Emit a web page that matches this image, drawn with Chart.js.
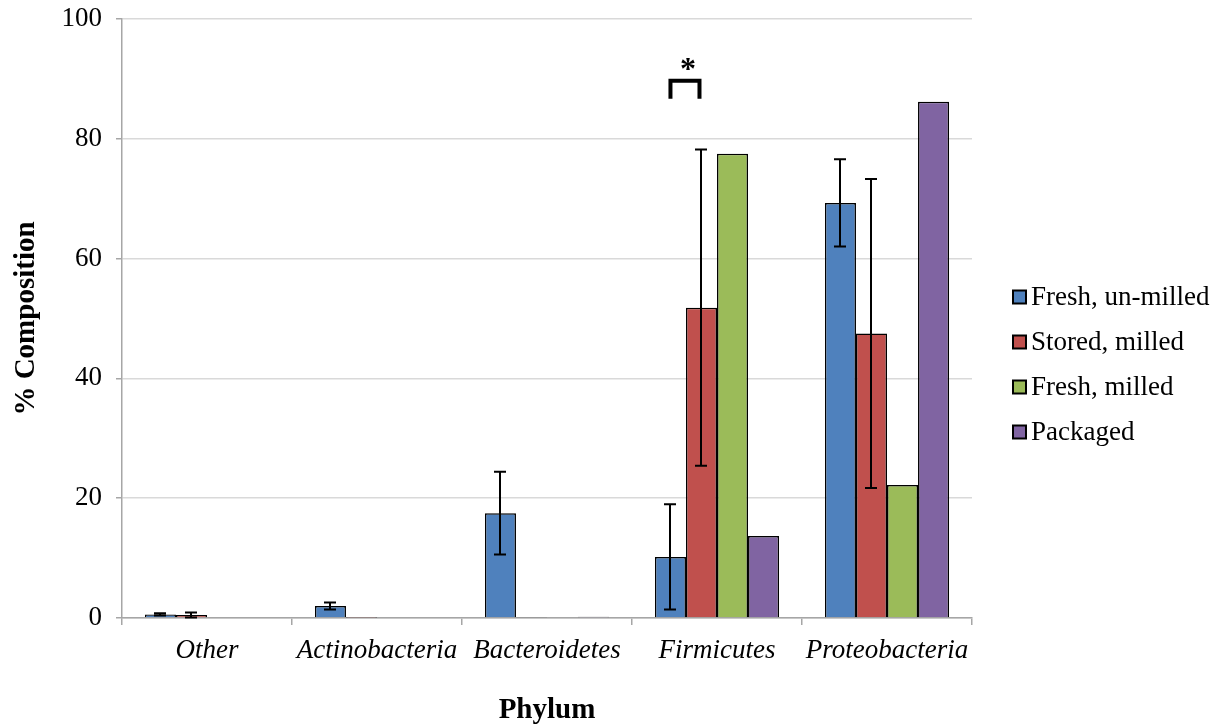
<!DOCTYPE html>
<html>
<head>
<meta charset="utf-8">
<script src="https://cdn.jsdelivr.net/npm/chart.js@4.4.1/dist/chart.umd.min.js"></script>
<style>
  html, body { margin: 0; padding: 0; background: #ffffff; }
  #wrap { width: 1216px; height: 725px; position: relative; }
</style>
</head>
<body>
<div id="wrap"><canvas id="c" width="1216" height="725"></canvas></div>
<script>
const categories = ['Other', 'Actinobacteria', 'Bacteroidetes', 'Firmicutes', 'Proteobacteria'];
const seriesNames = ['Fresh, un-milled', 'Stored, milled', 'Fresh, milled', 'Packaged'];
const freshUnmilled = [0.6, 2.0, 17.5, 10.2, 69.3];
const freshUnmilledErr = [0.2, 0.6, 6.9, 8.8, 7.3];
const storedMilled = [0.5, 0.05, 0.1, 51.8, 47.5];
const storedMilledErr = [0.4, 0, 0, 26.4, 25.8];
const freshMilled = [0, 0, 0, 77.5, 22.2];
const freshMilledErr = [null, null, null, null, null];
const packaged = [0, 0, 0.2, 13.7, 86.2];
const packagedErr = [null, null, null, null, null];
const yTicks = [0, 20, 40, 60, 80, 100];
// significance bracket: category, dataset indices, bracket top value, leg bottom value
const sigCategory = ['Firmicutes'];
const sigFrom = [0];
const sigTo = [1];
const sigTop = [89.7];
const sigLeg = [86.7];
const sigLabel = ['*'];

const colors = ['#4F81BD', '#C0504D', '#9BBB59', '#8064A2'];
const values = [freshUnmilled, storedMilled, freshMilled, packaged];
const errors = [freshUnmilledErr, storedMilledErr, freshMilledErr, packagedErr];
const serif = '"Liberation Serif", "Times New Roman", serif';

const errorBarPlugin = {
  id: 'errorBars',
  afterDatasetsDraw(chart) {
    const ctx = chart.ctx;
    const y = chart.scales.y;
    ctx.save();
    ctx.strokeStyle = '#000';
    ctx.lineWidth = 2;
    chart.data.datasets.forEach((ds, di) => {
      const meta = chart.getDatasetMeta(di);
      const errs = errors[di];
      meta.data.forEach((bar, i) => {
        const e = errs[i];
        if (e === null || e === undefined || e === 0) return;
        const v = ds.data[i];
        const yTop = y.getPixelForValue(v + e);
        const yBot = y.getPixelForValue(Math.max(v - e, 0));
        const x = Math.round(bar.x);
        const cap = 6;
        ctx.beginPath();
        ctx.moveTo(x, yTop); ctx.lineTo(x, yBot);
        ctx.moveTo(x - cap, yTop); ctx.lineTo(x + cap, yTop);
        ctx.moveTo(x - cap, yBot); ctx.lineTo(x + cap, yBot);
        ctx.stroke();
      });
    });
    // significance brackets
    sigCategory.forEach((cat, k) => {
      const idx = categories.indexOf(cat);
      const b1 = chart.getDatasetMeta(sigFrom[k]).data[idx];
      const b2 = chart.getDatasetMeta(sigTo[k]).data[idx];
      const x1 = b1.x, x2 = b2.x - 2;
      const yt = y.getPixelForValue(sigTop[k]);
      const yl = y.getPixelForValue(sigLeg[k]);
      ctx.lineWidth = 4;
      ctx.lineCap = 'butt';
      ctx.lineJoin = 'miter';
      ctx.beginPath();
      ctx.moveTo(x1, yl); ctx.lineTo(x1, yt); ctx.lineTo(x2, yt); ctx.lineTo(x2, yl);
      ctx.stroke();
      ctx.fillStyle = '#000';
      ctx.font = 'bold 32px ' + serif;
      ctx.textAlign = 'center';
      ctx.textBaseline = 'alphabetic';
      ctx.fillText(sigLabel[k], (x1 + x2) / 2 + 3, yt - 2);
    });
    ctx.restore();
  }
};

const legendPlugin = {
  id: 'sideLegend',
  afterDraw(chart) {
    const ctx = chart.ctx;
    const area = chart.chartArea;
    const left = area.right + 41;
    const firstY = 297;
    const step = 45;
    ctx.save();
    ctx.font = '27px ' + serif;
    ctx.textBaseline = 'middle';
    ctx.textAlign = 'left';
    chart.data.datasets.forEach((ds, i) => {
      const cy = firstY + i * step;
      ctx.fillStyle = ds.backgroundColor;
      ctx.fillRect(left, cy - 6.5, 13, 13);
      ctx.strokeStyle = '#000';
      ctx.lineWidth = 2;
      ctx.strokeRect(left, cy - 6.5, 13, 13);
      ctx.fillStyle = '#000';
      ctx.fillText(ds.label, left + 18, cy + 1);
    });
    ctx.restore();
  }
};

new Chart(document.getElementById('c'), {
  type: 'bar',
  data: {
    labels: categories,
    datasets: seriesNames.map((name, i) => ({
      label: name,
      data: values[i],
      backgroundColor: colors[i],
      borderColor: '#000',
      borderWidth: 1.5,
      categoryPercentage: 0.73,
      barPercentage: 1.0
    }))
  },
  options: {
    responsive: false,
    animation: false,
    devicePixelRatio: 1,
    layout: { padding: { top: 19, right: 244, bottom: 0, left: 0 } },
    plugins: {
      tooltip: { enabled: false },
      legend: { display: false }
    },
    scales: {
      x: {
        afterFit(scale) { scale.height = 107; },
        grid: { display: true, drawOnChartArea: false, offset: true, color: '#a6a6a6', tickLength: 7, lineWidth: 1.5 },
        border: { color: '#a6a6a6', width: 1.5 },
        ticks: { color: '#000', font: { family: serif, size: 27, style: 'italic' }, padding: 10 },
        title: { display: true, text: 'Phylum', color: '#000', font: { family: serif, size: 29, weight: 'bold', lineHeight: 1 }, padding: { top: 0, bottom: 0 } }
      },
      y: {
        min: 0, max: 100,
        afterFit(scale) { scale.width = 122; scale.paddingTop = 0; scale.paddingBottom = 0; },
        afterBuildTicks(scale) { scale.ticks = yTicks.map(v => ({ value: v })); },
        grid: { color: '#d9d9d9', lineWidth: 1.5, tickLength: 6, drawTicks: true, tickColor: '#a6a6a6' },
        border: { color: '#a6a6a6', width: 1.5 },
        ticks: { color: '#000', font: { family: serif, size: 27 }, padding: 14 },
        title: { display: true, text: '% Composition', color: '#000', font: { family: serif, size: 29, weight: 'bold', lineHeight: 1 }, padding: { top: 12, bottom: 0 } }
      }
    }
  },
  plugins: [errorBarPlugin, legendPlugin]
});
</script>
</body>
</html>
